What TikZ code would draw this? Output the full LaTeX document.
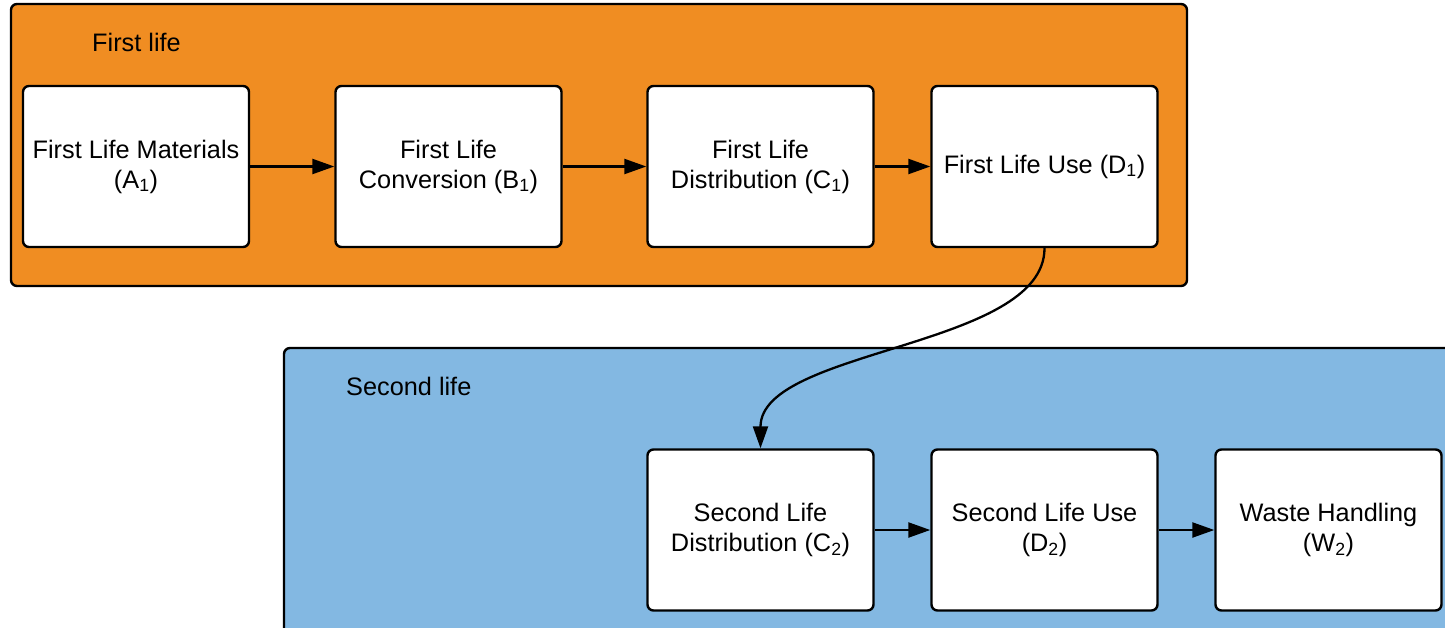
\documentclass[tikz,border=0pt]{standalone}
\usepackage{fontspec}
\setmainfont{Liberation Sans}
\usetikzlibrary{arrows.meta}
\definecolor{lifeorange}{RGB}{240,141,34}
\definecolor{lifeblue}{RGB}{131,184,226}
\tikzset{
  stagebox/.style={draw=black, line width=2.4pt, fill=white, rounded corners=6pt,
    minimum width=226pt, minimum height=161pt, inner sep=2pt, align=center,
    font=\fontsize{25.3}{30}\selectfont},
  panel/.style={draw=black, line width=2.4pt, rounded corners=6pt},
  paneltitle/.style={anchor=west, inner sep=0pt, font=\fontsize{25.3}{30}\selectfont},
  flow/.style={line width=2.3pt, -{Triangle[length=22pt,width=15pt]}}
}
\begin{document}
\begin{tikzpicture}[x=1pt,y=-1pt]
  \useasboundingbox (0,0) rectangle (1445,627);
  \clip (0,0) rectangle (1445,627);
  % panels
  \draw[panel, fill=lifeorange] (11,4) rectangle (1187,286);
  \draw[panel, fill=lifeblue] (284,348) rectangle (1470,650);
  \node[paneltitle] (t1) at (92,42) {First life};
  \node[paneltitle] (t2) at (346,386) {Second life};
  % first life stages
  \node[stagebox] (A1) at (136,166.5) {First Life Materials\\(A\textsubscript{1})};
  \node[stagebox] (B1) at (448.5,166.5) {First Life\\Conversion (B\textsubscript{1})};
  \node[stagebox] (C1) at (760.5,166.5) {First Life\\Distribution (C\textsubscript{1})};
  \node[stagebox] (D1) at (1044.5,166.5) {First Life Use (D\textsubscript{1})};
  % second life stages
  \node[stagebox] (C2) at (760.5,530) {Second Life\\Distribution (C\textsubscript{2})};
  \node[stagebox] (D2) at (1044.5,530) {Second Life Use\\(D\textsubscript{2})};
  \node[stagebox] (W2) at (1328.5,530) {Waste Handling\\(W\textsubscript{2})};
  % connectors
  \draw[flow] (A1) -- (B1);
  \draw[flow] (B1) -- (C1);
  \draw[flow] (C1) -- (D1);
  \draw[flow] (C2) -- (D2);
  \draw[flow] (D2) -- (W2);
  \draw[flow] (D1.south) .. controls +(0,100) and +(0,-100) .. (C2.north);
\end{tikzpicture}
\end{document}
